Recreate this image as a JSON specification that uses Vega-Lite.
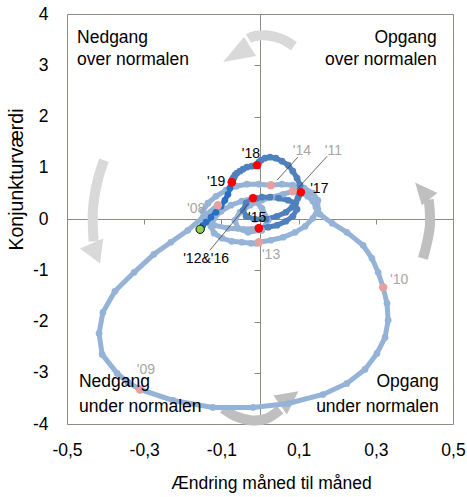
{
  "$schema": "https://vega.github.io/schema/vega-lite/v6.json",
  "width": 386,
  "height": 410,
  "autosize": "none",
  "padding": {"left": 67, "top": 14, "right": 14, "bottom": 73},
  "background": "white",
  "config": {
    "font": "Liberation Sans",
    "view": {"stroke": "#8c8c84", "strokeWidth": 1},
    "axis": {"labelColor": "#000000", "titleColor": "#000000", "titleFontWeight": "normal"}
  },
  "datasets": {
    "main": [
      {"d":"2008-01","s":"a","x":-0.109,"y":0.269},
      {"d":"2008-02","s":"a","x":-0.148,"y":0.034},
      {"d":"2008-03","s":"a","x":-0.187,"y":-0.220},
      {"d":"2008-04","s":"a","x":-0.231,"y":-0.454},
      {"d":"2008-05","s":"a","x":-0.275,"y":-0.689},
      {"d":"2008-06","s":"a","x":-0.326,"y":-1.040},
      {"d":"2008-07","s":"a","x":-0.376,"y":-1.411},
      {"d":"2008-08","s":"a","x":-0.407,"y":-1.822},
      {"d":"2008-09","s":"a","x":-0.417,"y":-2.232},
      {"d":"2008-10","s":"a","x":-0.409,"y":-2.642},
      {"d":"2008-11","s":"a","x":-0.370,"y":-3.013},
      {"d":"2008-12","s":"a","x":-0.342,"y":-3.189},
      {"d":"2009-01","s":"a","x":-0.311,"y":-3.326},
      {"d":"2009-02","s":"a","x":-0.225,"y":-3.541},
      {"d":"2009-03","s":"a","x":-0.122,"y":-3.677},
      {"d":"2009-04","s":"a","x":-0.018,"y":-3.677},
      {"d":"2009-05","s":"a","x":0.073,"y":-3.600},
      {"d":"2009-06","s":"a","x":0.163,"y":-3.424},
      {"d":"2009-07","s":"a","x":0.225,"y":-3.209},
      {"d":"2009-08","s":"a","x":0.272,"y":-2.935},
      {"d":"2009-09","s":"a","x":0.303,"y":-2.623},
      {"d":"2009-10","s":"a","x":0.324,"y":-2.310},
      {"d":"2009-11","s":"a","x":0.332,"y":-1.978},
      {"d":"2009-12","s":"a","x":0.329,"y":-1.646},
      {"d":"2010-01","s":"a","x":0.319,"y":-1.333},
      {"d":"2010-02","s":"a","x":0.306,"y":-1.040},
      {"d":"2010-03","s":"a","x":0.290,"y":-0.767},
      {"d":"2010-04","s":"a","x":0.267,"y":-0.513},
      {"d":"2010-05","s":"a","x":0.225,"y":-0.259},
      {"d":"2010-06","s":"a","x":0.187,"y":-0.083},
      {"d":"2010-07","s":"a","x":0.155,"y":0.093},
      {"d":"2010-08","s":"a","x":0.145,"y":0.229},
      {"d":"2010-09","s":"a","x":0.137,"y":0.347},
      {"d":"2010-10","s":"a","x":0.124,"y":0.444},
      {"d":"2010-11","s":"a","x":0.111,"y":0.503},
      {"d":"2010-12","s":"a","x":0.098,"y":0.542},
      {"d":"2011-01","s":"a","x":0.085,"y":0.542},
      {"d":"2011-02","s":"a","x":0.060,"y":0.483},
      {"d":"2011-03","s":"a","x":0.031,"y":0.425},
      {"d":"2011-04","s":"a","x":0.005,"y":0.366},
      {"d":"2011-05","s":"a","x":-0.026,"y":0.269},
      {"d":"2011-06","s":"a","x":-0.052,"y":0.132},
      {"d":"2011-07","s":"a","x":-0.065,"y":-0.024},
      {"d":"2011-08","s":"a","x":-0.057,"y":-0.181},
      {"d":"2011-09","s":"a","x":-0.031,"y":-0.259},
      {"d":"2011-10","s":"a","x":0.005,"y":-0.220},
      {"d":"2011-11","s":"a","x":0.021,"y":-0.024},
      {"d":"2011-12","s":"a","x":0.005,"y":0.210},
      {"d":"2012-01","s":"a","x":-0.018,"y":0.405},
      {"d":"2012-02","s":"a","x":-0.047,"y":0.347},
      {"d":"2012-03","s":"a","x":-0.075,"y":0.269},
      {"d":"2012-04","s":"a","x":-0.101,"y":0.151},
      {"d":"2012-05","s":"a","x":-0.119,"y":0.015},
      {"d":"2012-06","s":"a","x":-0.127,"y":-0.142},
      {"d":"2012-07","s":"a","x":-0.119,"y":-0.278},
      {"d":"2012-08","s":"a","x":-0.098,"y":-0.376},
      {"d":"2012-09","s":"a","x":-0.073,"y":-0.435},
      {"d":"2012-10","s":"a","x":-0.047,"y":-0.454},
      {"d":"2012-11","s":"a","x":-0.023,"y":-0.474},
      {"d":"2012-12","s":"a","x":-0.010,"y":-0.474},
      {"d":"2013-01","s":"a","x":-0.003,"y":-0.454},
      {"d":"2013-02","s":"a","x":0.028,"y":-0.415},
      {"d":"2013-03","s":"a","x":0.060,"y":-0.356},
      {"d":"2013-04","s":"a","x":0.091,"y":-0.259},
      {"d":"2013-05","s":"a","x":0.117,"y":-0.142},
      {"d":"2013-06","s":"a","x":0.137,"y":0.015},
      {"d":"2013-07","s":"a","x":0.150,"y":0.190},
      {"d":"2013-08","s":"a","x":0.150,"y":0.366},
      {"d":"2013-09","s":"a","x":0.137,"y":0.503},
      {"d":"2013-10","s":"a","x":0.114,"y":0.601},
      {"d":"2013-11","s":"a","x":0.085,"y":0.659},
      {"d":"2013-12","s":"a","x":0.057,"y":0.679},
      {"d":"2014-01","s":"a","x":0.028,"y":0.659},
      {"d":"2014-02","s":"a","x":-0.003,"y":0.679},
      {"d":"2014-03","s":"a","x":-0.034,"y":0.679},
      {"d":"2014-04","s":"a","x":-0.062,"y":0.640},
      {"d":"2014-05","s":"a","x":-0.088,"y":0.562},
      {"d":"2014-06","s":"a","x":-0.114,"y":0.444},
      {"d":"2014-07","s":"a","x":-0.135,"y":0.308},
      {"d":"2014-08","s":"a","x":-0.148,"y":0.151},
      {"d":"2014-09","s":"a","x":-0.142,"y":-0.005},
      {"d":"2014-10","s":"a","x":-0.119,"y":-0.122},
      {"d":"2014-11","s":"a","x":-0.083,"y":-0.181},
      {"d":"2014-12","s":"a","x":-0.044,"y":-0.200},
      {"d":"2015-01","s":"a","x":-0.003,"y":-0.181},
      {"d":"2015-01","s":"b","x":-0.003,"y":-0.181},
      {"d":"2015-02","s":"b","x":0.021,"y":-0.161},
      {"d":"2015-03","s":"b","x":0.044,"y":-0.122},
      {"d":"2015-04","s":"b","x":0.067,"y":-0.044},
      {"d":"2015-05","s":"b","x":0.085,"y":0.054},
      {"d":"2015-06","s":"b","x":0.096,"y":0.190},
      {"d":"2015-07","s":"b","x":0.091,"y":0.308},
      {"d":"2015-08","s":"b","x":0.073,"y":0.366},
      {"d":"2015-09","s":"b","x":0.049,"y":0.405},
      {"d":"2015-10","s":"b","x":0.026,"y":0.425},
      {"d":"2015-11","s":"b","x":0.005,"y":0.425},
      {"d":"2015-12","s":"b","x":-0.008,"y":0.405},
      {"d":"2016-01","s":"b","x":-0.018,"y":0.405},
      {"d":"2016-02","s":"b","x":-0.036,"y":0.308},
      {"d":"2016-03","s":"b","x":-0.044,"y":0.171},
      {"d":"2016-04","s":"b","x":-0.036,"y":0.054},
      {"d":"2016-05","s":"b","x":-0.013,"y":-0.005},
      {"d":"2016-06","s":"b","x":0.016,"y":-0.005},
      {"d":"2016-07","s":"b","x":0.044,"y":0.054},
      {"d":"2016-08","s":"b","x":0.067,"y":0.132},
      {"d":"2016-09","s":"b","x":0.083,"y":0.229},
      {"d":"2016-10","s":"b","x":0.093,"y":0.327},
      {"d":"2016-11","s":"b","x":0.098,"y":0.405},
      {"d":"2016-12","s":"b","x":0.101,"y":0.464},
      {"d":"2017-01","s":"b","x":0.106,"y":0.523},
      {"d":"2017-02","s":"b","x":0.104,"y":0.659},
      {"d":"2017-03","s":"b","x":0.096,"y":0.796},
      {"d":"2017-04","s":"b","x":0.085,"y":0.933},
      {"d":"2017-05","s":"b","x":0.073,"y":1.050},
      {"d":"2017-06","s":"b","x":0.057,"y":1.128},
      {"d":"2017-07","s":"b","x":0.041,"y":1.187},
      {"d":"2017-08","s":"b","x":0.026,"y":1.206},
      {"d":"2017-09","s":"b","x":0.013,"y":1.187},
      {"d":"2017-10","s":"b","x":0.003,"y":1.147},
      {"d":"2017-11","s":"b","x":-0.003,"y":1.108},
      {"d":"2017-12","s":"b","x":-0.005,"y":1.069},
      {"d":"2018-01","s":"b","x":-0.008,"y":1.050},
      {"d":"2018-02","s":"b","x":-0.021,"y":1.030},
      {"d":"2018-03","s":"b","x":-0.034,"y":1.011},
      {"d":"2018-04","s":"b","x":-0.044,"y":0.972},
      {"d":"2018-05","s":"b","x":-0.052,"y":0.933},
      {"d":"2018-06","s":"b","x":-0.060,"y":0.894},
      {"d":"2018-07","s":"b","x":-0.065,"y":0.855},
      {"d":"2018-08","s":"b","x":-0.067,"y":0.816},
      {"d":"2018-09","s":"b","x":-0.070,"y":0.796},
      {"d":"2018-10","s":"b","x":-0.070,"y":0.777},
      {"d":"2018-11","s":"b","x":-0.073,"y":0.757},
      {"d":"2018-12","s":"b","x":-0.073,"y":0.737},
      {"d":"2019-01","s":"b","x":-0.073,"y":0.718},
      {"d":"2019-01","s":"c","x":-0.073,"y":0.718},
      {"d":"2019-02","s":"c","x":-0.078,"y":0.601},
      {"d":"2019-03","s":"c","x":-0.083,"y":0.483},
      {"d":"2019-04","s":"c","x":-0.091,"y":0.366},
      {"d":"2019-05","s":"c","x":-0.101,"y":0.249},
      {"d":"2019-06","s":"c","x":-0.114,"y":0.132},
      {"d":"2019-07","s":"c","x":-0.127,"y":0.034},
      {"d":"2019-08","s":"c","x":-0.140,"y":-0.063},
      {"d":"2019-09","s":"c","x":-0.148,"y":-0.122},
      {"d":"2019-10","s":"c","x":-0.155,"y":-0.200}
    ],
    "arrows": [
      {"id":"top","k":1,"x":0.088,"y":3.375},
      {"id":"top","k":2,"x":0.057,"y":3.512},
      {"id":"top","k":3,"x":0.021,"y":3.580},
      {"id":"top","k":4,"x":-0.013,"y":3.570},
      {"id":"top","k":5,"x":-0.030,"y":3.520},
      {"id":"left","k":1,"x":-0.404,"y":1.148},
      {"id":"left","k":2,"x":-0.417,"y":0.855},
      {"id":"left","k":3,"x":-0.427,"y":0.523},
      {"id":"left","k":4,"x":-0.433,"y":0.171},
      {"id":"left","k":5,"x":-0.433,"y":-0.122},
      {"id":"left","k":6,"x":-0.431,"y":-0.440},
      {"id":"bottom","k":1,"x":-0.096,"y":-3.697},
      {"id":"bottom","k":2,"x":-0.062,"y":-3.853},
      {"id":"bottom","k":3,"x":-0.021,"y":-3.931},
      {"id":"bottom","k":4,"x":0.018,"y":-3.892},
      {"id":"bottom","k":5,"x":0.052,"y":-3.720},
      {"id":"right","k":1,"x":0.422,"y":-0.767},
      {"id":"right","k":2,"x":0.433,"y":-0.454},
      {"id":"right","k":3,"x":0.440,"y":-0.142},
      {"id":"right","k":4,"x":0.440,"y":0.132},
      {"id":"right","k":5,"x":0.437,"y":0.380}
    ],
    "labels": [
      {"t":"'08","yr":2008,"x":-0.189,"y":0.112},
      {"t":"'09","yr":2009,"x":-0.319,"y":-3.030},
      {"t":"'10","yr":2010,"x":0.337,"y":-1.275},
      {"t":"'11","yr":2011,"x":0.168,"y":1.245},
      {"t":"'13","yr":2013,"x":0.005,"y":-0.786},
      {"t":"'14","yr":2014,"x":0.085,"y":1.245},
      {"t":"'15","yr":2015,"x":-0.031,"y":-0.063},
      {"t":"'17","yr":2017,"x":0.130,"y":0.503},
      {"t":"'18","yr":2018,"x":-0.047,"y":1.187},
      {"t":"'19","yr":2019,"x":-0.137,"y":0.640},
      {"t":"'12&'16","yr":2016,"x":-0.199,"y":-0.864}
    ],
    "leaders": [
      {"x":0.044,"y":0.757,"x2":0.098,"y2":1.206},
      {"x":0.096,"y":0.581,"x2":0.174,"y2":1.225},
      {"x":-0.031,"y":0.288,"x2":-0.130,"y2":-0.610}
    ],
    "quad": [
      {"t":"Nedgang","q":"NW","x":-0.474,"y":3.439},
      {"t":"over normalen","q":"NW","x":-0.474,"y":3.003},
      {"t":"Opgang","q":"NE","x":0.458,"y":3.439},
      {"t":"over normalen","q":"NE","x":0.458,"y":3.003},
      {"t":"Nedgang","q":"SW","x":-0.469,"y":-3.287},
      {"t":"under normalen","q":"SW","x":-0.469,"y":-3.765},
      {"t":"Opgang","q":"SE","x":0.463,"y":-3.287},
      {"t":"under normalen","q":"SE","x":0.463,"y":-3.765}
    ]
  },
  "layer": [
    {
      "data": {"name": "arrows"},
      "mark": {"type": "line", "interpolate": "cardinal", "strokeWidth": 10, "strokeCap": "butt"},
      "encoding": {
        "x": {"field": "x", "type": "quantitative", "scale": {"domain": [-0.5, 0.5], "nice": false, "zero": false},
          "axis": {"title": "Ændring måned til måned", "values": [-0.5, -0.3, -0.1, 0.1, 0.3, 0.5],
            "labelExpr": "replace(replace(format(datum.value, '.1f'), '.', ','), '\u2212', '-')",
            "ticks": false, "domain": false, "grid": false, "labelFlush": false, "labelPadding": 17,
            "labelFontSize": 17.5, "titleFontSize": 17.5, "titlePadding": 16, "titleX": 204}},
        "y": {"field": "y", "type": "quantitative", "scale": {"domain": [-4, 4], "nice": false, "zero": false},
          "axis": {"title": "Konjunkturværdi", "values": [-4, -3, -2, -1, 0, 1, 2, 3, 4],
            "labelExpr": "replace(format(datum.value, 'd'), '\u2212', '-')",
            "ticks": false, "domain": false, "grid": false, "labelPadding": 19,
            "labelFontSize": 17.5, "titleFontSize": 19.5, "titlePadding": 6, "titleY": 165}},
        "detail": {"field": "id"},
        "order": {"field": "k"},
        "color": {"field": "id", "type": "nominal", "scale": {"domain": ["top", "left", "bottom", "right"], "range": ["#d9d9d9", "#d9d9d9", "#bfbfbf", "#bfbfbf"]}, "legend": null}
      }
    },
    {
      "data": {"values": [{"x": -0.049, "y": 3.277}]},
      "mark": {"type": "point", "shape": "M-1.8,1.1L0.3,-1.4L1.5,0.5Z", "filled": true, "size": 400, "color": "#d9d9d9", "opacity": 1, "strokeWidth": 0},
      "encoding": {"x": {"field": "x", "type": "quantitative", "axis": null}, "y": {"field": "y", "type": "quantitative", "axis": null}}
    },
    {
      "data": {"values": [{"x": -0.429, "y": -0.610}]},
      "mark": {"type": "point", "shape": "M-1.44,-0.17L0.89,-1.17L0.56,1.33Z", "filled": true, "size": 400, "color": "#d9d9d9", "opacity": 1, "strokeWidth": 0},
      "encoding": {"x": {"field": "x", "type": "quantitative", "axis": null}, "y": {"field": "y", "type": "quantitative", "axis": null}}
    },
    {
      "data": {"values": [{"x": 0.068, "y": -3.539}]},
      "mark": {"type": "point", "shape": "M-1.28,-0.49L1.22,-0.92L0.06,1.41Z", "filled": true, "size": 400, "color": "#bfbfbf", "opacity": 1, "strokeWidth": 0},
      "encoding": {"x": {"field": "x", "type": "quantitative", "axis": null}, "y": {"field": "y", "type": "quantitative", "axis": null}}
    },
    {
      "data": {"values": [{"x": 0.427, "y": 0.497}]},
      "mark": {"type": "point", "shape": "M-0.97,-1.1L1.26,-0.06L-0.3,1.17Z", "filled": true, "size": 400, "color": "#bfbfbf", "opacity": 1, "strokeWidth": 0},
      "encoding": {"x": {"field": "x", "type": "quantitative", "axis": null}, "y": {"field": "y", "type": "quantitative", "axis": null}}
    },
    {
      "data": {"name": "main"},
      "mark": {"type": "line", "strokeWidth": 5},
      "encoding": {
        "x": {"field": "x", "type": "quantitative",
          "axis": {"orient": "bottom", "offset": -205, "labels": false, "title": null, "grid": false, "ticks": true, "tickSize": 5,
            "tickColor": "#8c8c84", "domainColor": "#8c8c84", "values": [-0.5, -0.3, -0.1, 0.1, 0.3, 0.5]}},
        "y": {"field": "y", "type": "quantitative",
          "axis": {"orient": "left", "offset": -193, "labels": false, "title": null, "grid": false, "ticks": true, "tickSize": 6,
            "tickColor": "#8c8c84", "domainColor": "#8c8c84", "values": [-4, -3, -2, -1, 0, 1, 2, 3, 4]}},
        "order": {"field": "d"},
        "color": {"field": "s", "type": "nominal", "scale": {"domain": ["a", "b", "c"], "range": ["#95b3d7", "#4f81bd", "#2a6fc2"]}, "legend": null}
      }
    },
    {
      "data": {"name": "main"},
      "mark": {"type": "circle", "size": 45, "opacity": 1},
      "encoding": {
        "x": {"field": "x", "type": "quantitative", "axis": null},
        "y": {"field": "y", "type": "quantitative", "axis": null},
        "color": {"field": "s", "type": "nominal", "scale": {"domain": ["a", "b", "c"], "range": ["#95b3d7", "#4f81bd", "#2a6fc2"]}, "legend": null}
      }
    },
    {
      "data": {"name": "main"},
      "transform": [{"filter": "substring(datum.d, 5, 7) == '01'"}],
      "mark": {"type": "circle", "size": 70, "opacity": 1},
      "encoding": {
        "x": {"field": "x", "type": "quantitative", "axis": null},
        "y": {"field": "y", "type": "quantitative", "axis": null},
        "color": {"condition": {"test": "datum.d < '2015'", "value": "#e6a0a0"}, "value": "#ff0000"}
      }
    },
    {
      "data": {"name": "main"},
      "transform": [{"filter": "datum.d == '2019-10'"}],
      "mark": {"type": "circle", "size": 70, "opacity": 1, "color": "#92d050", "stroke": "#000000", "strokeWidth": 1},
      "encoding": {
        "x": {"field": "x", "type": "quantitative", "axis": null},
        "y": {"field": "y", "type": "quantitative", "axis": null}
      }
    },
    {
      "data": {"name": "leaders"},
      "mark": {"type": "rule", "color": "#404040", "strokeWidth": 0.8},
      "encoding": {
        "x": {"field": "x", "type": "quantitative", "axis": null},
        "y": {"field": "y", "type": "quantitative", "axis": null},
        "x2": {"field": "x2"},
        "y2": {"field": "y2"}
      }
    },
    {
      "data": {"name": "labels"},
      "mark": {"type": "text", "align": "left", "baseline": "alphabetic", "fontSize": 14},
      "encoding": {
        "x": {"field": "x", "type": "quantitative", "axis": null},
        "y": {"field": "y", "type": "quantitative", "axis": null},
        "text": {"field": "t"},
        "color": {"condition": {"test": "datum.yr < 2015", "value": "#a6a6a6"}, "value": "#000000"}
      }
    },
    {
      "data": {"name": "quad"},
      "transform": [{"filter": "datum.q == 'NW' || datum.q == 'SW'"}],
      "mark": {"type": "text", "align": "left", "baseline": "alphabetic", "fontSize": 17.5, "color": "#000000"},
      "encoding": {
        "x": {"field": "x", "type": "quantitative", "axis": null},
        "y": {"field": "y", "type": "quantitative", "axis": null},
        "text": {"field": "t"}
      }
    },
    {
      "data": {"name": "quad"},
      "transform": [{"filter": "datum.q == 'NE' || datum.q == 'SE'"}],
      "mark": {"type": "text", "align": "right", "baseline": "alphabetic", "fontSize": 17.5, "color": "#000000"},
      "encoding": {
        "x": {"field": "x", "type": "quantitative", "axis": null},
        "y": {"field": "y", "type": "quantitative", "axis": null},
        "text": {"field": "t"}
      }
    }
  ],
  "resolve": {"axis": {"x": "independent", "y": "independent"}, "scale": {"color": "independent"}}
}
